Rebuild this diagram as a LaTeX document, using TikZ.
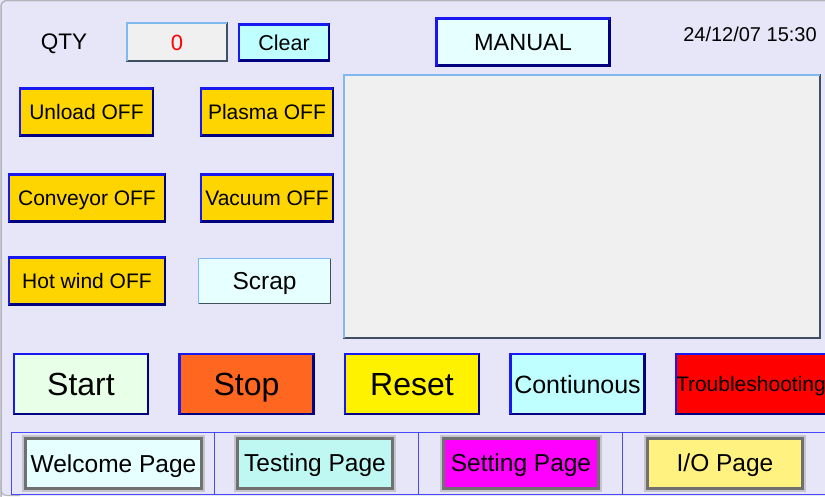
\documentclass[tikz,border=0pt]{standalone}
\usepackage{fontspec}
\setmainfont{Liberation Sans}
\usetikzlibrary{positioning}

\definecolor{panelbg}{HTML}{E6E6F8}
\definecolor{framegray}{HTML}{B4B4BC}
\definecolor{btnnavy}{HTML}{000080}
\definecolor{btnblue}{HTML}{1818F0}
\definecolor{offgold}{HTML}{FFD500}
\definecolor{paleaqua}{HTML}{E6FFFF}
\definecolor{lightaqua}{HTML}{BFFFFF}
\definecolor{screengray}{HTML}{F0F0F0}
\definecolor{edgelight}{HTML}{80B8F0}
\definecolor{edgedark}{HTML}{405060}
\definecolor{startgreen}{HTML}{E8FFE8}
\definecolor{stoporange}{HTML}{FF6620}
\definecolor{tabgray}{HTML}{707070}
\definecolor{tabhalo}{HTML}{C4C4CC}
\definecolor{testaqua}{HTML}{BFF7F2}
\definecolor{setmagenta}{HTML}{FF00FF}
\definecolor{iopale}{HTML}{FFF280}
\definecolor{barblue}{HTML}{4848FF}

\tikzset{
  x=1pt, y=-1pt,
  node distance=165.5pt,
  capfit/.style={text height=#1, text depth=0pt},
  btn/.style={draw=btnnavy, line width=2.5pt, inner sep=0pt, outer sep=0pt,
              font=\fontsize{21}{21}\selectfont, capfit=15pt},
  offbtn/.style={btn, fill=offgold, minimum height=47pt},
  bigbtn/.style={btn, minimum width=134pt, minimum height=60pt,
                 font=\fontsize{32}{32}\selectfont, capfit=23pt},
  sunken/.style={draw=edgedark, line width=2pt, fill=screengray,
                 inner sep=0pt, outer sep=0pt},
  pagetab/.style={draw=tabgray, line width=3pt, inner sep=0pt, outer sep=0pt,
                  minimum height=50pt, preaction={draw=tabhalo, line width=7pt},
                  font=\fontsize{24.5}{24.5}\selectfont, capfit=17.5pt}
}

\begin{document}
\begin{tikzpicture}
  \useasboundingbox (0,0) rectangle (825,496);
  \clip (0,0) rectangle (825,496);
  \fill[panelbg] (0,0) rectangle (825,496);
  \draw[framegray, line width=1.5pt, rounded corners=6pt]
    (1,497) |- (826,0.5);
  \draw[framegray, line width=1pt, rounded corners=6pt]
    (1,480) |- (20,495.5);

  % top line
  \node[font=\fontsize{22.5}{22.5}\selectfont, capfit=16pt] (qty) at (64,41) {QTY};
  \node[sunken, minimum width=100pt, minimum height=38pt, text=red,
        font=\fontsize{22}{22}\selectfont, capfit=16pt] (count) at (177,42) {0};
  \node[btn, fill=lightaqua, minimum width=90pt, minimum height=36pt,
        font=\fontsize{21.5}{21.5}\selectfont] (clear) at (284,42.5) {Clear};
  \node[btn, fill=paleaqua, minimum width=173pt, minimum height=47pt,
        font=\fontsize{23.5}{23.5}\selectfont, capfit=17pt] (mode) at (523,42) {MANUAL};
  \node[font=\fontsize{20}{20}\selectfont, capfit=14pt] (clock) at (750,34) {24/12/07 15:30};

  % display area
  \node[sunken, minimum width=476pt, minimum height=263pt] (screen) at (582,206.5) {};

  % switch buttons
  \node[offbtn, minimum width=133pt] (unload) at (86.5,112) {Unload OFF};
  \node[offbtn, minimum width=132pt] (plasma) at (267,112) {Plasma OFF};
  \node[offbtn, minimum width=156pt] (conveyor) at (87,198) {Conveyor OFF};
  \node[offbtn, minimum width=132pt] (vacuum) at (267,198) {Vacuum OFF};
  \node[offbtn, minimum width=156pt] (hotwind) at (87,281) {Hot wind OFF};
  \node[sunken, line width=1.5pt, fill=paleaqua, minimum width=132pt,
        minimum height=45pt, font=\fontsize{24.5}{24.5}\selectfont, capfit=17.5pt]
        (scrap) at (264.5,281) {Scrap};

  % run buttons
  \node[bigbtn, fill=startgreen] (start) at (81,384) {Start};
  \node[bigbtn, fill=stoporange] (stop) [right of=start] {Stop};
  \node[bigbtn, fill=yellow] (reset) [right of=stop] {Reset};
  \node[bigbtn, fill=lightaqua, font=\fontsize{25}{25}\selectfont, capfit=18pt]
        (contin) [right of=reset] {Contiunous};
  \node[bigbtn, fill=red, minimum width=170pt, text width=170pt, align=left,
        font=\fontsize{21}{21}\selectfont, capfit=15pt]
        (trouble) [right=31.5pt of contin] {Troubleshooting};

  % light edges of the buttons
  \foreach \b in {clear,mode,unload,plasma,conveyor,vacuum,hotwind,
                  start,stop,reset,contin,trouble}
    \draw[btnblue, line width=2.5pt] (\b.south west) |- (\b.north east);
  \foreach \b in {count,screen}
    \draw[edgelight, line width=2pt] (\b.south west) |- (\b.north east);
  \draw[edgelight, line width=1.5pt] (scrap.south west) |- (scrap.north east);

  % page bar
  \draw[barblue, line width=1pt] (11,432.5) rectangle (840,494);
  \foreach \x in {214,418,622}
    \draw[barblue, line width=1pt] (\x,432.5) -- (\x,494);
  \node[pagetab, fill=paleaqua, minimum width=176pt] (welcome) at (113.5,463.5) {Welcome Page};
  \node[pagetab, fill=testaqua, minimum width=155pt] (testing) at (315,463) {Testing Page};
  \node[pagetab, fill=setmagenta, minimum width=155pt] (setting) at (521,463) {Setting Page};
  \node[pagetab, fill=iopale, minimum width=155pt] (iopage) at (725,463) {I/O Page};
\end{tikzpicture}
\end{document}
